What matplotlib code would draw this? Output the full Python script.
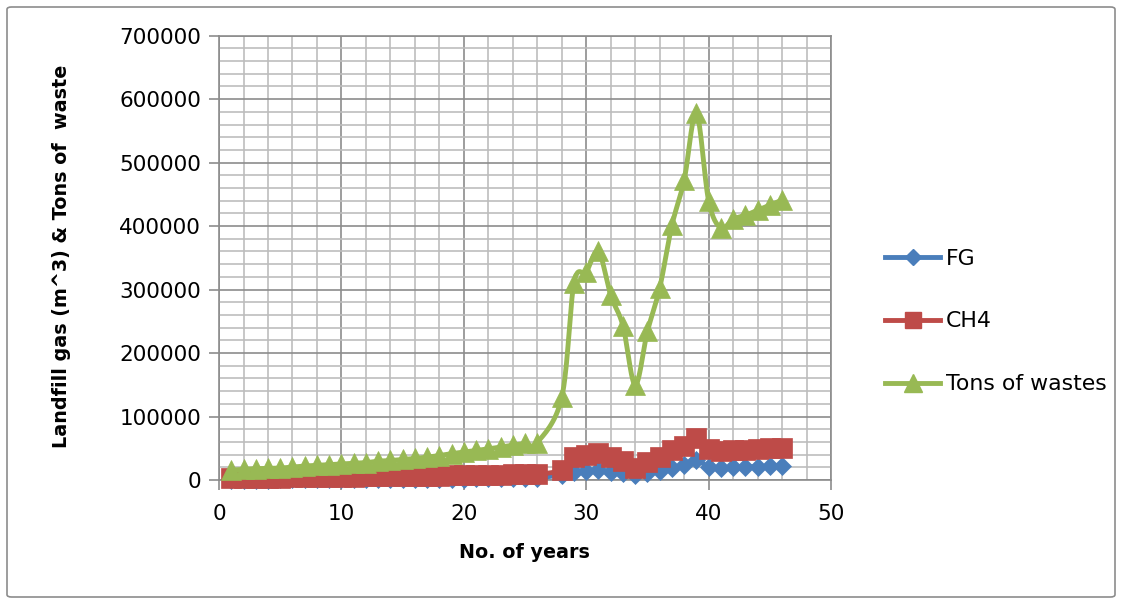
import numpy as np
import matplotlib.pyplot as plt
from matplotlib.lines import Line2D
from matplotlib.patches import FancyBboxPatch
from matplotlib.ticker import MultipleLocator

plt.rcParams['font.family'] = ['DejaVu Sans']

# year index (no record for year 27)
years = list(range(1, 27)) + list(range(28, 47))

fg = [400, 500, 600, 700, 800, 900, 1000, 1100, 1200, 1300, 1400, 1500, 1600,
      1700, 1800, 1900, 2000, 2100, 2200, 2300, 2400, 2500, 2600, 2700, 2800, 3000,
      8500, 13000, 14000, 15000, 13000, 11000, 8500, 11500, 14500, 19000, 24000,
      31000, 20500, 19500, 20000, 20500, 21000, 21500, 22500]

ch4 = [3000, 3200, 3400, 3600, 3800, 4000, 4200, 4500, 4700, 5000, 5200, 5500, 5700,
       6000, 6200, 6500, 6700, 7000, 7300, 7600, 7900, 8200, 8500, 8800, 9100, 9000,
       15700, 36200, 38800, 42000, 35700, 30400, 18400, 28300, 36200, 46500, 54000,
       66000, 48800, 45200, 46700, 47700, 48800, 49900, 50400]

tons = [15700, 16800, 17800, 18300, 18800, 20400, 22000, 23100, 24200, 25100, 26200,
        27300, 29600, 30700, 32300, 33900, 36000, 38500, 41500, 44000, 46500, 49000,
        52000, 55000, 57500, 59000,
        130000, 310000, 328000, 360000, 291000, 243000, 150000, 234000, 302000,
        401000, 472000, 578000, 440000, 397000, 411000, 417000, 425000, 433000, 441000]

series = [
    ("FG", fg, "#4A7EBB", "D", 9),
    ("CH4", ch4, "#BE4B48", "s", 14),
    ("Tons of wastes", tons, "#98B954", "^", 15),
]


def smooth(xs, ys, n=16):
    """Catmull-Rom curve through the points, like a spreadsheet 'smoothed line'."""
    pts = np.column_stack([xs, ys]).astype(float)
    p = np.vstack([pts[0], pts, pts[-1]])
    t = np.linspace(0, 1, n, endpoint=False)[:, None]
    out = []
    for i in range(1, len(p) - 2):
        p0, p1, p2, p3 = p[i - 1], p[i], p[i + 1], p[i + 2]
        seg = 0.5 * (2 * p1 + (p2 - p0) * t
                     + (2 * p0 - 5 * p1 + 4 * p2 - p3) * t ** 2
                     + (3 * p1 - p0 - 3 * p2 + p3) * t ** 3)
        out.append(seg)
    out.append(pts[-1:])
    return np.vstack(out)


fig = plt.figure(figsize=(11.21, 6.02), dpi=100)
ax = fig.add_axes([0.1954, 0.2027, 0.5459, 0.738])

handles = []
for k, (name, vals, color, marker, ms) in enumerate(series):
    curve = smooth(years, vals)
    ax.plot(curve[:, 0], curve[:, 1], color=color, lw=3.5, zorder=3 + 2 * k,
            solid_capstyle="round", clip_on=False)
    ax.plot(years, vals, linestyle="none", marker=marker, ms=ms, color=color,
            markeredgecolor=color, markeredgewidth=0.5, zorder=4 + 2 * k, clip_on=False)
    handles.append(Line2D([], [], color=color, lw=3.5, marker=marker,
                          ms=ms * 0.85, markeredgecolor=color, label=name))

ax.set_xlim(0, 50)
ax.set_ylim(0, 700000)
ax.xaxis.set_major_locator(MultipleLocator(10))
ax.xaxis.set_minor_locator(MultipleLocator(2))
ax.yaxis.set_major_locator(MultipleLocator(100000))
ax.yaxis.set_minor_locator(MultipleLocator(20000))

ax.grid(which="major", color="#8C8C8C", lw=1.2)
ax.grid(which="minor", color="#BDBDBD", lw=1.2)
ax.set_axisbelow(True)

for sp in ax.spines.values():
    sp.set_color("#8C8C8C")
    sp.set_linewidth(1.2)

ax.tick_params(which="major", direction="out", length=7, width=1.2, color="#8C8C8C",
               labelsize=15.5)
ax.tick_params(axis="y", pad=6)
ax.tick_params(axis="x", pad=10)
ax.tick_params(which="minor", length=0)

fig.text(62 / 1121, 1 - 256 / 602, "Landfill gas (m^3) & Tons of  waste",
         rotation=90, ha="center", va="center", fontsize=13.8, fontweight="bold")
fig.text(524 / 1121, 1 - 553 / 602, "No. of years",
         ha="center", va="center", fontsize=13.8, fontweight="bold")

fig.legend(handles=handles, loc="center left", bbox_to_anchor=(0.772, 0.466),
           frameon=False, fontsize=15.8, handlelength=2.5, handletextpad=0.25,
           labelspacing=1.95, numpoints=1)

# chart-area frame
fig.patches.append(FancyBboxPatch((7 / 1121, 5 / 602), 1108 / 1121, 590 / 602,
                                  boxstyle="round,pad=0,rounding_size=0.004",
                                  transform=fig.transFigure, fill=False,
                                  edgecolor="#8C8C8C", lw=1.2))

fig.savefig("out.png", dpi=100)
